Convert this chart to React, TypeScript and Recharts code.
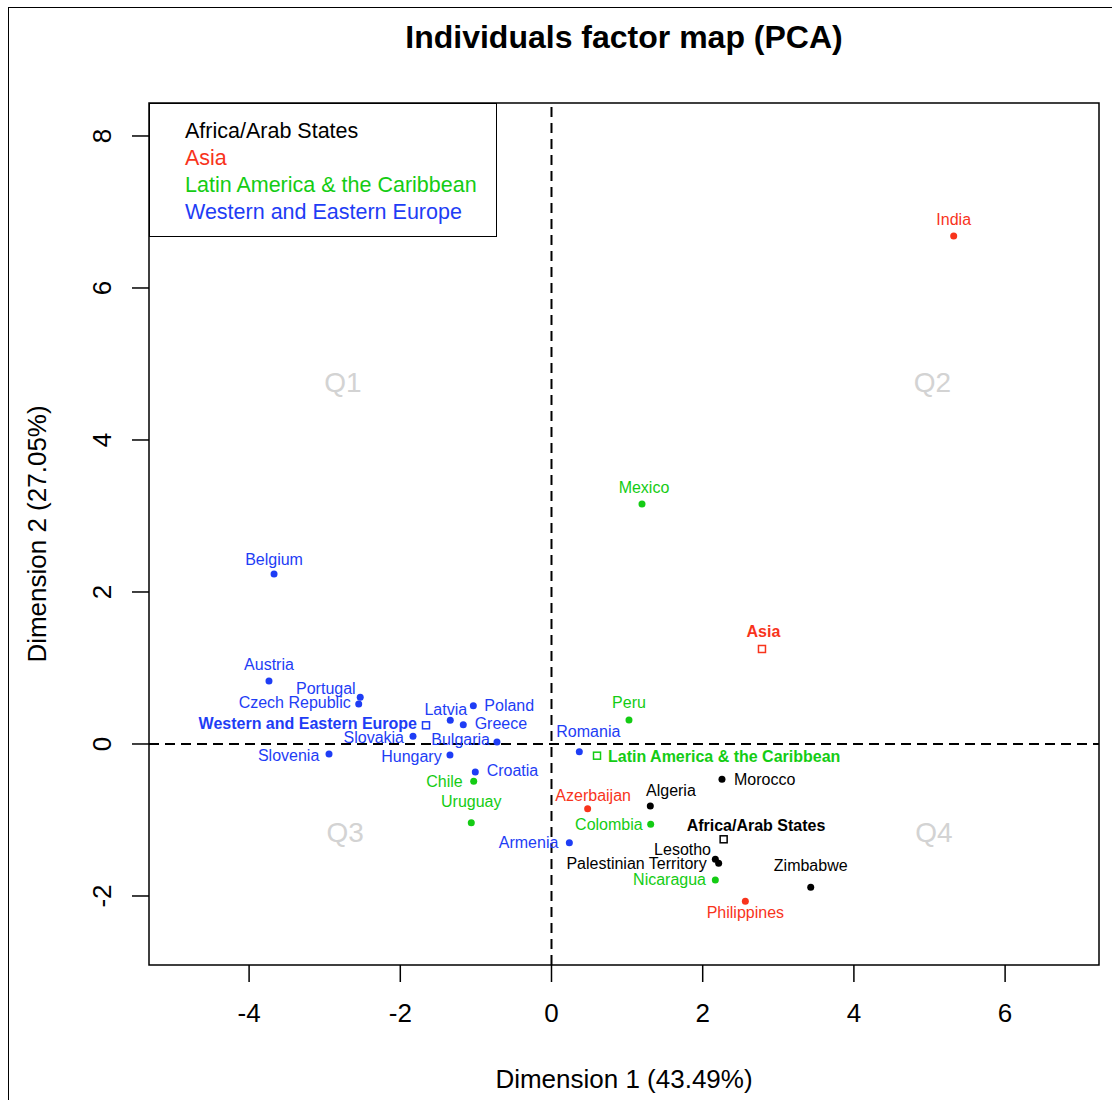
import React from "react";
import {
  ScatterChart,
  Scatter,
  XAxis,
  YAxis,
  ReferenceLine,
  ReferenceArea,
  Legend,
  Label,
} from "recharts";

const FONT = '"Liberation Sans", Arial, Helvetica, sans-serif';

// ---------- data ----------
const regions = [
  "Africa/Arab States",
  "Asia",
  "Latin America & the Caribbean",
  "Western and Eastern Europe",
];
const regionColors = ["#000000", "#F8341C", "#14CC14", "#1E3DF5"];

const africaNames = ["Morocco", "Algeria", "Lesotho", "Palestinian Territory", "Zimbabwe"];
const africaDim1 = [2.255, 1.307, 2.167, 2.211, 3.429];
const africaDim2 = [-0.465, -0.816, -1.518, -1.57, -1.886];

const asiaNames = ["India", "Azerbaijan", "Philippines"];
const asiaDim1 = [5.32, 0.478, 2.564];
const asiaDim2 = [6.684, -0.851, -2.07];

const latamNames = ["Mexico", "Peru", "Chile", "Uruguay", "Colombia", "Nicaragua"];
const latamDim1 = [1.197, 1.025, -1.029, -1.061, 1.312, 2.167];
const latamDim2 = [3.158, 0.316, -0.491, -1.035, -1.057, -1.789];

const europeNames = [
  "Belgium", "Austria", "Portugal", "Czech Republic", "Latvia", "Poland", "Greece",
  "Slovakia", "Bulgaria", "Slovenia", "Hungary", "Croatia", "Romania", "Armenia",
];
const europeDim1 = [-3.67, -3.737, -2.53, -2.55, -1.339, -1.034, -1.167, -1.832, -0.721, -2.943, -1.343, -1.008, 0.368, 0.236];
const europeDim2 = [2.237, 0.829, 0.614, 0.526, 0.311, 0.504, 0.254, 0.101, 0.026, -0.132, -0.145, -0.368, -0.101, -1.298];

// group barycentres (one per region)
const centroidDim1 = [2.277, 2.784, 0.602, -1.66];
const centroidDim2 = [-1.254, 1.25, -0.154, 0.246];

const quadrantNames = ["Q1", "Q2", "Q3", "Q4"];
const quadrantDim1 = [-2.76, 5.04, -2.73, 5.06];
const quadrantDim2 = [4.75, 4.75, -1.16, -1.16];

const xTicks = [-4, -2, 0, 2, 4, 6];
const yTicks = [-2, 0, 2, 4, 6, 8];
const xDomain: [number, number] = [-5.324, 7.242];
const yDomain: [number, number] = [-2.908, 8.434];

// label placement (anchor, dx, dy of baseline) – styling only
const labelPlacement: Record<string, [string, number, number]> = {
  Belgium: ["middle", 0, -9],
  Austria: ["middle", 0, -11],
  Portugal: ["end", -4.6, -3.7],
  "Czech Republic": ["end", -8, 4],
  Latvia: ["middle", -4.5, -5.5],
  Poland: ["start", 11, 5.5],
  Greece: ["start", 11.4, 4.5],
  Slovakia: ["end", -9, 6.5],
  Bulgaria: ["end", -7, 3],
  Slovenia: ["end", -9.7, 6.5],
  Hungary: ["end", -8.3, 7],
  Croatia: ["start", 11.4, 4],
  Romania: ["middle", 9, -14.5],
  Armenia: ["end", -11, 5.5],
  Chile: ["end", -11, 5.5],
  Uruguay: ["middle", 0, -15.5],
  Mexico: ["middle", 2, -10.5],
  Peru: ["middle", 0, -11.8],
  Colombia: ["end", -8, 5.5],
  Nicaragua: ["end", -9.3, 5.5],
  India: ["middle", 0, -11],
  Azerbaijan: ["middle", 5.5, -8],
  Philippines: ["middle", 0, 16.5],
  Morocco: ["start", 12, 5.5],
  Algeria: ["start", -4.3, -10.5],
  Lesotho: ["end", -4.3, -4.8],
  "Palestinian Territory": ["end", -12, 5.5],
  Zimbabwe: ["middle", 0, -16],
  "Africa/Arab States": ["start", -37, -8],
  Asia: ["middle", 1.5, -11.5],
  "Latin America & the Caribbean": ["start", 11, 6.5],
  "Western and Eastern Europe": ["end", -9, 3.5],
};

const build = (names: string[], d1: number[], d2: number[]) =>
  names.map((name, i) => ({ name, x: d1[i], y: d2[i] }));

const groups = [
  build(africaNames, africaDim1, africaDim2),
  build(asiaNames, asiaDim1, asiaDim2),
  build(latamNames, latamDim1, latamDim2),
  build(europeNames, europeDim1, europeDim2),
];
const centroidData = regions.map((name, i) => ({ name, x: centroidDim1[i], y: centroidDim2[i], g: i }));
const quadrantData = quadrantNames.map((name, i) => ({ name, x: quadrantDim1[i], y: quadrantDim2[i] }));

// ---------- shapes ----------
const pointShape = (color: string) => (props: any) => {
  const { cx, cy, payload } = props;
  if (cx == null || cy == null) return <g />;
  const [anchor, dx, dy] = labelPlacement[payload.name] ?? ["middle", 0, -10];
  return (
    <g>
      <circle cx={cx} cy={cy} r={3.5} fill={color} />
      <text x={cx + dx} y={cy + dy} textAnchor={anchor as any} fontSize={16} fontFamily={FONT} fill={color}>
        {payload.name}
      </text>
    </g>
  );
};

const centroidShape = (props: any) => {
  const { cx, cy, payload } = props;
  if (cx == null || cy == null) return <g />;
  const color = regionColors[payload.g];
  const [anchor, dx, dy] = labelPlacement[payload.name] ?? ["middle", 0, -10];
  return (
    <g>
      <rect x={cx - 3.5} y={cy - 3.5} width={7} height={7} fill="#fff" stroke={color} strokeWidth={1.5} />
      <text x={cx + dx} y={cy + dy} textAnchor={anchor as any} fontSize={16} fontWeight="bold" fontFamily={FONT} fill={color}>
        {payload.name}
      </text>
    </g>
  );
};

const quadrantShape = (props: any) => {
  const { cx, cy, payload } = props;
  if (cx == null || cy == null) return <g />;
  return (
    <text x={cx} y={cy} textAnchor="middle" dominantBaseline="central" fontSize={28} fontFamily={FONT} fill="#D3D3D3">
      {payload.name}
    </text>
  );
};

const YTick = (props: any) => {
  const { x, y, payload } = props;
  const cx = x - 30;
  return (
    <text
      x={cx}
      y={y}
      transform={`rotate(-90, ${cx}, ${y})`}
      textAnchor="middle"
      dominantBaseline="central"
      fontSize={26}
      fontFamily={FONT}
      fill="#000"
    >
      {payload.value}
    </text>
  );
};

const renderLegend = (props: any) => {
  const payload = (props && props.payload) || [];
  const items =
    payload.length === regions.length
      ? payload.map((p: any) => ({ value: p.value, color: p.color }))
      : regions.map((r, i) => ({ value: r, color: regionColors[i] }));
  return (
    <div
      style={{
        boxSizing: "border-box",
        width: 348,
        height: 134,
        border: "1.5px solid #000",
        background: "#fff",
        paddingTop: 14,
        paddingLeft: 35,
        fontFamily: FONT,
        fontSize: 21.5,
        lineHeight: "27px",
        textAlign: "left",
      }}
    >
      {items.map((it: any) => (
        <div key={it.value} style={{ color: it.color, whiteSpace: "nowrap" }}>
          {it.value}
        </div>
      ))}
    </div>
  );
};

const XTitle = (props: any) => {
  const vb = props.viewBox || { x: 149, y: 965, width: 950, height: 135 };
  return (
    <text x={vb.x + vb.width / 2} y={vb.y + 114} textAnchor="middle" dominantBaseline="central" fontSize={26} fontFamily={FONT} fill="#000">
      Dimension 1 (43.49%)
    </text>
  );
};

const YTitle = (props: any) => {
  const vb = props.viewBox || { x: 0, y: 103, width: 149, height: 862 };
  const cx = vb.x + 37;
  const cy = vb.y + vb.height / 2;
  return (
    <text x={cx} y={cy} transform={`rotate(-90, ${cx}, ${cy})`} textAnchor="middle" dominantBaseline="central" fontSize={26} fontFamily={FONT} fill="#000">
      Dimension 2 (27.05%)
    </text>
  );
};

export default function App() {
  return (
    <div
      style={{
        position: "absolute",
        left: 0,
        top: 0,
        width: 1112,
        height: 1100,
        overflow: "hidden",
        background: "#fff",
        fontFamily: FONT,
      }}
    >
      <ScatterChart width={1112} height={1100} margin={{ top: 103, right: 13, bottom: 0, left: 0 }}>
        <XAxis
          dataKey="x"
          type="number"
          domain={xDomain}
          ticks={xTicks}
          allowDataOverflow
          axisLine={false}
          tickLine={{ stroke: "#000", strokeWidth: 1.5 }}
          tickSize={17}
          tickMargin={22}
          tick={{ fontSize: 26, fill: "#000", fontFamily: FONT }}
          height={135}
        >
          <Label content={XTitle} />
        </XAxis>
        <YAxis
          dataKey="y"
          type="number"
          domain={yDomain}
          ticks={yTicks}
          allowDataOverflow
          axisLine={false}
          tickLine={{ stroke: "#000", strokeWidth: 1.5 }}
          tickSize={17}
          tickMargin={0}
          tick={<YTick />}
          width={149}
        >
          <Label content={YTitle} />
        </YAxis>
        <ReferenceArea
          x1={xDomain[0]}
          x2={xDomain[1]}
          y1={yDomain[0]}
          y2={yDomain[1]}
          fill="none"
          fillOpacity={0}
          stroke="#000"
          strokeWidth={1.5}
          ifOverflow="visible"
        />
        <ReferenceLine x={0} stroke="#000" strokeWidth={2} strokeDasharray="10 6" />
        <ReferenceLine y={0} stroke="#000" strokeWidth={2} strokeDasharray="10 6" />
        <Scatter data={quadrantData} shape={quadrantShape} legendType="none" isAnimationActive={false} />
        {groups.map((data, i) => (
          <Scatter
            key={regions[i]}
            name={regions[i]}
            data={data}
            fill={regionColors[i]}
            shape={pointShape(regionColors[i])}
            isAnimationActive={false}
          />
        ))}
        <Scatter data={centroidData} shape={centroidShape} legendType="none" isAnimationActive={false} />
        <Legend
          layout="vertical"
          align="center"
          verticalAlign="middle"
          wrapperStyle={{ left: 149, top: 103, width: 348, height: 134 }}
          content={renderLegend}
        />
      </ScatterChart>
      <div
        style={{
          position: "absolute",
          left: 224,
          width: 800,
          top: 21,
          height: 32,
          lineHeight: "32px",
          textAlign: "center",
          fontFamily: FONT,
          fontWeight: "bold",
          fontSize: 32,
          color: "#000",
          whiteSpace: "nowrap",
        }}
      >
        Individuals factor map (PCA)
      </div>
      <div
        style={{
          position: "absolute",
          left: 8,
          top: 7,
          width: 1200,
          height: 1200,
          borderLeft: "1.5px solid #000",
          borderTop: "1.5px solid #000",
          pointerEvents: "none",
        }}
      />
    </div>
  );
}
